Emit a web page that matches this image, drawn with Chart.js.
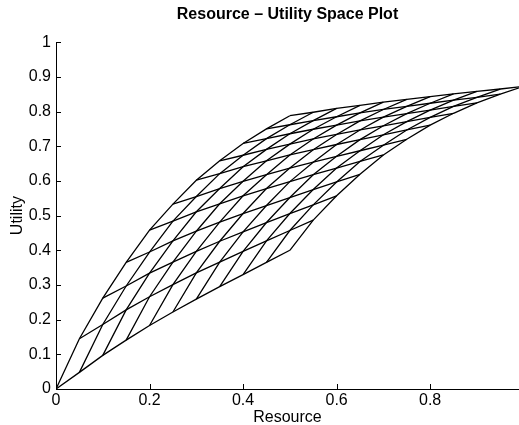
<!DOCTYPE html>
<html>
<head>
<meta charset="utf-8">
<script src="https://cdn.jsdelivr.net/npm/chart.js@4"></script>
<style>
  html, body { margin: 0; padding: 0; background: #fff; }
  #wrap { width: 519px; height: 425px; }
</style>
</head>
<body>
<div id="wrap"><canvas id="chart" width="519" height="425"></canvas></div>
<script>
// resource value of node (i, j) is resourceLevels[i + j]
const resourceLevels = [0, 0.05, 0.1, 0.15, 0.2, 0.25, 0.3, 0.35, 0.4, 0.45, 0.5,
  0.55, 0.6, 0.65, 0.7, 0.75, 0.8, 0.85, 0.9, 0.95, 1.0];

// utility of each mesh node, one row per i, columns j = 0..10
const utility = [
  [0, 0.048, 0.097, 0.141, 0.183, 0.222, 0.259, 0.295, 0.330, 0.365, 0.400],
  [0.145, 0.186, 0.228, 0.266, 0.301, 0.335, 0.366, 0.397, 0.427, 0.457, 0.487],
  [0.262, 0.297, 0.334, 0.366, 0.397, 0.426, 0.453, 0.480, 0.506, 0.531, 0.557],
  [0.365, 0.395, 0.427, 0.455, 0.481, 0.506, 0.529, 0.552, 0.575, 0.597, 0.619],
  [0.458, 0.484, 0.511, 0.534, 0.557, 0.578, 0.598, 0.618, 0.637, 0.656, 0.675],
  [0.533, 0.555, 0.578, 0.599, 0.618, 0.637, 0.654, 0.671, 0.687, 0.703, 0.720],
  [0.602, 0.621, 0.641, 0.658, 0.675, 0.690, 0.705, 0.719, 0.733, 0.747, 0.761],
  [0.658, 0.674, 0.691, 0.706, 0.721, 0.734, 0.747, 0.759, 0.771, 0.783, 0.795],
  [0.708, 0.722, 0.736, 0.749, 0.761, 0.773, 0.784, 0.794, 0.804, 0.815, 0.825],
  [0.750, 0.762, 0.774, 0.785, 0.796, 0.806, 0.815, 0.824, 0.833, 0.841, 0.850],
  [0.788, 0.798, 0.809, 0.818, 0.827, 0.835, 0.843, 0.851, 0.858, 0.865, 0.873]
];

const xTicks = [0, 0.2, 0.4, 0.6, 0.8];
const yTicks = [0, 0.1, 0.2, 0.3, 0.4, 0.5, 0.6, 0.7, 0.8, 0.9, 1];

const FONT = "'Liberation Sans', Arial, Helvetica, sans-serif";

function meshLine(points) {
  return {
    data: points,
    showLine: true,
    borderColor: "#000",
    borderWidth: 1.3,
    pointRadius: 0,
    tension: 0,
    fill: false
  };
}

const datasets = [];
// lines along j for each i
utility.forEach((row, i) => {
  datasets.push(meshLine(row.map((u, j) => ({ x: resourceLevels[i + j], y: u }))));
});
// lines along i for each j
for (let j = 0; j < utility[0].length; j++) {
  datasets.push(meshLine(utility.map((row, i) => ({ x: resourceLevels[i + j], y: row[j] }))));
}

// MATLAB style ticks pointing into the plot
const inwardTicks = {
  id: "inwardTicks",
  afterDatasetsDraw(chart) {
    const { ctx, chartArea, scales } = chart;
    ctx.save();
    ctx.strokeStyle = "#000";
    ctx.lineWidth = 1;
    ctx.beginPath();
    xTicks.forEach(v => {
      const px = Math.round(scales.x.getPixelForValue(v)) + 0.5;
      ctx.moveTo(px, chartArea.bottom);
      ctx.lineTo(px, chartArea.bottom - 5);
    });
    yTicks.forEach(v => {
      const py = Math.round(scales.y.getPixelForValue(v)) + 0.5;
      ctx.moveTo(chartArea.left, py);
      ctx.lineTo(chartArea.left + 5, py);
    });
    ctx.stroke();
    ctx.restore();
  }
};

new Chart(document.getElementById("chart"), {
  type: "scatter",
  data: { datasets },
  plugins: [inwardTicks],
  options: {
    responsive: false,
    animation: false,
    events: [],
    layout: { padding: 0 },
    plugins: {
      legend: { display: false },
      tooltip: { enabled: false },
      title: {
        display: true,
        text: "Resource – Utility Space Plot",
        fullSize: false,
        color: "#000",
        font: { family: FONT, size: 16, weight: "bold" },
        padding: { top: 5, bottom: 18 }
      }
    },
    scales: {
      x: {
        type: "linear",
        min: 0,
        max: 0.99,
        afterBuildTicks: s => { s.ticks = xTicks.map(v => ({ value: v })); },
        afterFit: s => { s.height = 36; },
        grid: { display: false, drawTicks: false },
        border: { display: true, color: "#000", width: 1 },
        ticks: {
          color: "#000", padding: 2, maxRotation: 0,
          font: { family: FONT, size: 16 },
          callback: v => String(v)
        },
        title: {
          display: true,
          text: "Resource",
          color: "#000",
          font: { family: FONT, size: 16 },
          padding: { top: 0, bottom: -2 }
        }
      },
      y: {
        type: "linear",
        min: 0,
        max: 1,
        afterBuildTicks: s => { s.ticks = yTicks.map(v => ({ value: v })); },
        afterFit: s => { s.width = 56; },
        grid: { display: false, drawTicks: false },
        border: { display: true, color: "#000", width: 1 },
        ticks: {
          color: "#000", padding: 5,
          font: { family: FONT, size: 16 },
          callback: v => String(v)
        },
        title: {
          display: true,
          text: "Utility",
          color: "#000",
          font: { family: FONT, size: 16 },
          padding: { top: 8, bottom: 0 }
        }
      }
    }
  }
});
</script>
</body>
</html>
